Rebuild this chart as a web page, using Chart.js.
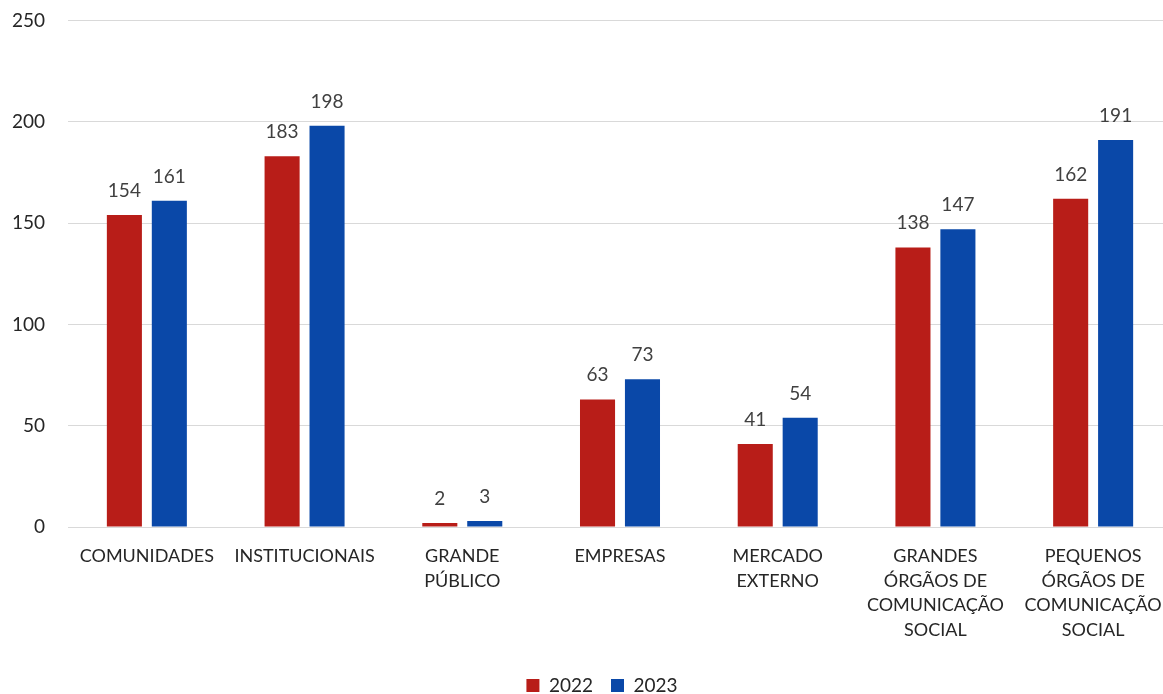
<!DOCTYPE html>
<html>
<head>
<meta charset="utf-8">
<script src="https://cdn.jsdelivr.net/npm/chart.js@4"></script>
<style>
  html, body { margin: 0; padding: 0; background: #fff; overflow: hidden; }
  #wrap { width: 1172px; height: 708px; margin-top: -14px; }
</style>
</head>
<body>
<div id="wrap"><canvas id="myChart"></canvas></div>
<script>
var categorias = [
    'COMUNIDADES',
    'INSTITUCIONAIS',
    ['GRANDE', 'PÚBLICO'],
    'EMPRESAS',
    ['MERCADO', 'EXTERNO'],
    ['GRANDES', 'ÓRGÃOS DE', 'COMUNICAÇÃO', 'SOCIAL'],
    ['PEQUENOS', 'ÓRGÃOS DE', 'COMUNICAÇÃO', 'SOCIAL']
];
var valores2022 = [154, 183, 2, 63, 41, 138, 162];
var valores2023 = [161, 198, 3, 73, 54, 147, 191];
var anos = ['2022', '2023'];
var escalaY = [0, 250, 50]; // min, max, step

var fonte = 'Lato, "Open Sans", sans-serif';

// values written above each bar
var rotulos = {
    id: 'rotulos',
    afterDatasetsDraw: function(chart) {
        var ctx = chart.ctx;
        ctx.save();
        ctx.font = '19px ' + fonte;
        ctx.fillStyle = '#404040';
        ctx.textAlign = 'center';
        ctx.textBaseline = 'alphabetic';
        chart.data.datasets.forEach(function(ds, i) {
            chart.getDatasetMeta(i).data.forEach(function(bar, j) {
                ctx.fillText(ds.data[j], bar.x, bar.y - 18);
            });
        });
        ctx.restore();
    }
};

// move the legend a little right and down
var legendaDesloc = {
    id: 'legendaDesloc',
    afterLayout: function(chart) {
        var lg = chart.legend;
        if (lg) {
            lg.left += 16;
            lg.right += 16;
            lg.top += 7;
            lg.bottom += 7;
        }
    }
};

var ctx = document.getElementById('myChart').getContext('2d');

var chart = new Chart(ctx, {
    type: 'bar',
    data: {
        labels: categorias,
        datasets: [{
            label: anos[0],
            data: valores2022,
            backgroundColor: '#B81D18',
            barPercentage: 0.78,
            categoryPercentage: 0.57
        }, {
            label: anos[1],
            data: valores2023,
            backgroundColor: '#0A48A8',
            barPercentage: 0.78,
            categoryPercentage: 0.57
        }]
    },
    plugins: [rotulos, legendaDesloc],
    options: {
        responsive: true,
        maintainAspectRatio: false,
        animation: false,
        layout: {
            padding: { top: -2, right: 0, bottom: -4, left: 0 }
        },
        scales: {
            x: {
                grid: { display: false },
                border: { display: false },
                ticks: {
                    color: '#262626',
                    font: { family: fonte, size: 18, lineHeight: 1.36 },
                    maxRotation: 0,
                    autoSkip: false,
                    padding: 9
                }
            },
            y: {
                min: escalaY[0],
                max: escalaY[1],
                grid: { color: '#d9d9d9', lineWidth: 1, drawTicks: false },
                border: { display: false },
                ticks: {
                    stepSize: escalaY[2],
                    color: '#262626',
                    font: { family: fonte, size: 19 },
                    padding: 23
                },
                afterFit: function(scale) { scale.width = 68; }
            }
        },
        plugins: {
            legend: {
                position: 'bottom',
                labels: {
                    boxWidth: 13,
                    boxHeight: 13,
                    padding: 18,
                    color: '#262626',
                    font: { family: fonte, size: 19 }
                }
            },
            tooltip: { enabled: false }
        }
    }
});
</script>
</body>
</html>
